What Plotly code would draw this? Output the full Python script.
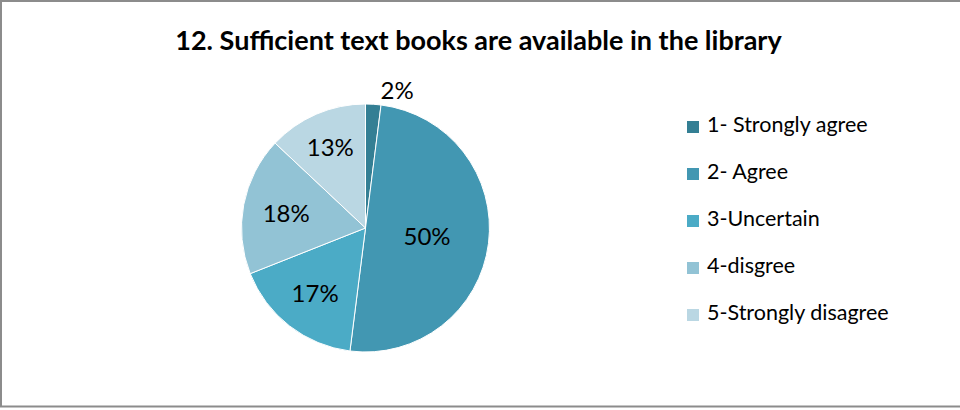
import plotly.graph_objects as go

# Survey responses, percent of respondents
categories = ["1- Strongly agree", "2- Agree", "3-Uncertain", "4-disgree", "5-Strongly disagree"]
percentages = [2, 50, 17, 18, 13]
colors = ["#347F94", "#4297B2", "#4BABC6", "#92C3D5", "#BAD7E3"]
title_text = "12. Sufficient text books are available in the library"

W, H = 960, 410
cx, cy, r = 365.5, 228.0, 124.0  # pie centre and radius in pixels

fig = go.Figure()
fig.add_trace(go.Pie(
    labels=categories,
    values=percentages,
    sort=False,
    direction="clockwise",
    rotation=0,
    marker=dict(colors=colors, line=dict(color="white", width=1)),
    texttemplate="%{value}%",
    textposition=["outside", "inside", "inside", "inside", "inside"],
    insidetextorientation="horizontal",
    textfont=dict(family="Lato", size=24, color="black"),
    showlegend=False,
    hoverinfo="label+percent",
    domain=dict(x=[(cx - r) / W, (cx + r) / W], y=[(H - cy - r) / H, (H - cy + r) / H]),
))

# Hand-built legend: colour swatch + label per category
leg_x, leg_y0, leg_dy, sw = 687, 127, 47, 12
shapes = []
annotations = []
for i, (lab, col) in enumerate(zip(categories, colors)):
    yc = leg_y0 + i * leg_dy
    shapes.append(dict(type="rect", xref="paper", yref="paper",
                       x0=leg_x / W, x1=(leg_x + sw) / W,
                       y0=(H - yc - sw / 2) / H, y1=(H - yc + sw / 2) / H,
                       fillcolor=col, line=dict(width=0)))
    annotations.append(dict(text=lab, xref="paper", yref="paper",
                            x=(leg_x + sw + 6) / W, y=(H - yc + 3) / H,
                            xanchor="left", yanchor="middle", showarrow=False,
                            font=dict(family="Lato", size=21.5, color="black")))

# Outer frame: left, top and bottom edges
frame = dict(color="#8C8C8C", width=2)
for x0, y0, x1, y1 in [(1, 0, 1, 407), (0, 1, W, 1), (0, 406.5, W, 406.5)]:
    shapes.append(dict(type="line", xref="paper", yref="paper",
                       x0=x0 / W, x1=x1 / W, y0=(H - y0) / H, y1=(H - y1) / H,
                       line=frame))

fig.update_layout(
    width=W, height=H,
    margin=dict(l=0, r=0, t=0, b=0),
    paper_bgcolor="white", plot_bgcolor="white",
    title=dict(text="<b>" + title_text + "</b>", x=478.5 / W, y=1 - 41 / H,
               xanchor="center", yanchor="middle", xref="paper", yref="container",
               font=dict(family="Lato", size=27, color="black")),
    shapes=shapes,
    annotations=annotations,
)

fig.write_html("out.html")
